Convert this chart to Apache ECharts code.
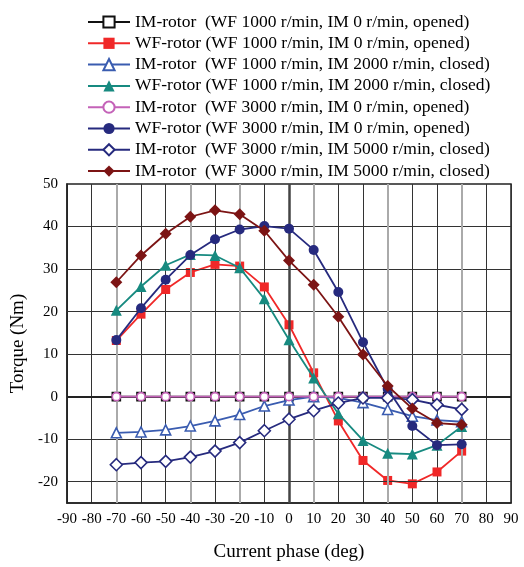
<!DOCTYPE html>
<html>
<head>
<meta charset="utf-8">
<script src="https://cdn.jsdelivr.net/npm/echarts@6/dist/echarts.min.js"></script>
<style>html,body{margin:0;padding:0;background:#fff;}#c{width:524px;height:567px;}</style>
</head>
<body>
<div id="c"></div>
<script>
const phases = [-70,-60,-50,-40,-30,-20,-10,0,10,20,30,40,50,60,70];
const xTicks = [-90,-80,-70,-60,-50,-40,-30,-20,-10,0,10,20,30,40,50,60,70,80,90];
const yTickLabels = [-20,-10,0,10,20,30,40,50];
const yGridLines = [-20,-10,10,20,30,40];
const xGrayLines = [-70,-40,-20,10,40,70];

const imWf1000Im0 = [0,0,0,0,0,0,0,0,0,0,0,0,0,0,0];
const wfWf1000Im0 = [13.2,19.4,25.2,29.2,31.1,30.7,25.8,16.9,5.6,-5.7,-15.0,-19.7,-20.5,-17.7,-12.8];
const imWf1000Im2000 = [-8.5,-8.3,-7.8,-6.9,-5.7,-4.2,-2.2,-0.8,0,-0.3,-1.4,-3.0,-4.6,-5.5,-5.9];
const wfWf1000Im2000 = [20.3,25.9,30.9,33.4,33.2,30.3,23.0,13.4,4.4,-4.0,-10.3,-13.3,-13.5,-11.4,-7.0];
const imWf3000Im0 = [0,0,0,0,0,0,0,0,0,0,0,0,0,0,0];
const wfWf3000Im0 = [13.3,20.8,27.5,33.3,37.0,39.3,40.1,39.5,34.5,24.6,12.8,1.8,-6.9,-11.4,-11.2];
const imWf3000Im5000 = [-16.0,-15.5,-15.2,-14.2,-12.8,-10.8,-8.0,-5.3,-3.3,-1.5,-0.3,-0.3,-0.7,-1.9,-3.0];
const wfWf3000Im5000 = [26.9,33.2,38.3,42.3,43.8,42.9,39.0,32.0,26.3,18.8,9.9,2.5,-2.8,-6.2,-6.6];

const names = [
  'IM-rotor  (WF 1000 r/min, IM 0 r/min, opened)',
  'WF-rotor (WF 1000 r/min, IM 0 r/min, opened)',
  'IM-rotor  (WF 1000 r/min, IM 2000 r/min, closed)',
  'WF-rotor (WF 1000 r/min, IM 2000 r/min, closed)',
  'IM-rotor  (WF 3000 r/min, IM 0 r/min, opened)',
  'WF-rotor (WF 3000 r/min, IM 0 r/min, opened)',
  'IM-rotor  (WF 3000 r/min, IM 5000 r/min, closed)',
  'IM-rotor  (WF 3000 r/min, IM 5000 r/min, closed) '
];
const values = [imWf1000Im0, wfWf1000Im0, imWf1000Im2000, wfWf1000Im2000, imWf3000Im0, wfWf3000Im0, imWf3000Im5000, wfWf3000Im5000];
const styles = [
  {c:'#111111', sym:'rect', open:true, size:8},
  {c:'#f02828', sym:'rect', open:false, size:9},
  {c:'#3a5cb0', sym:'triangle', open:true, size:10},
  {c:'#178a80', sym:'triangle', open:false, size:11},
  {c:'#c462b8', sym:'circle', open:true, size:8},
  {c:'#262a7e', sym:'circle', open:false, size:10},
  {c:'#262a7e', sym:'diamond', open:true, size:12},
  {c:'#7c1414', sym:'diamond', open:false, size:12}
];
const drawOrder = [0,4,1,2,3,6,5,7];

const series = [];
series.push({
  type:'line', name:'_grid', data:[], silent:true, z:1,
  markLine:{
    silent:true, symbol:'none', animation:false, label:{show:false},
    data: [
      ...yGridLines.map(v=>({yAxis:v, lineStyle:{color:'#333', width:1, type:'solid'}})),
      ...xGrayLines.map(v=>({xAxis:v, lineStyle:{color:'#aaaaaa', width:2, type:'solid'}})),
      {xAxis:0, lineStyle:{color:'#444', width:2.5, type:'solid'}},
      {yAxis:0, lineStyle:{color:'#222', width:2, type:'solid'}}
    ]
  }
});
drawOrder.forEach(i=>{
  const s = styles[i];
  series.push({
    type:'line', name:names[i], z:3+i,
    data: phases.map((p,k)=>[p, values[i][k]]),
    symbol:s.sym, symbolSize:s.size, showSymbol:true,
    lineStyle:{color:s.c, width:1.8},
    itemStyle: s.open ? {color:'#ffffff', borderColor:s.c, borderWidth:1.6} : {color:s.c, borderColor:s.c, borderWidth:0},
    emphasis:{disabled:true},
    animation:false
  });
});

const chart = echarts.init(document.getElementById('c'), null, {renderer:'canvas'});
chart.setOption({
  backgroundColor:'#fff',
  animation:false,
  legend:{
    data:names, orient:'vertical', left:82, top:8, padding:5,
    itemWidth:42, itemHeight:14, itemGap:3.3,
    textStyle:{fontFamily:'Liberation Serif', fontSize:17.5, color:'#000'},
    selectedMode:false
  },
  grid:{left:67, right:13, top:184, bottom:55, show:true, borderColor:'#222', borderWidth:1.5, backgroundColor:'transparent'},
  xAxis:{
    type:'value', min:xTicks[0], max:xTicks[xTicks.length-1], interval:10,
    name:'Current phase (deg)', nameLocation:'middle', nameGap:40,
    nameTextStyle:{fontFamily:'Liberation Serif', fontSize:19, color:'#000'},
    axisLine:{show:true, onZero:false, lineStyle:{color:'#222', width:1.5}},
    axisTick:{show:false},
    axisLabel:{fontFamily:'Liberation Serif', fontSize:15, color:'#000', margin:9},
    splitLine:{show:true, lineStyle:{color:'#333', width:1}}
  },
  yAxis:{
    type:'value', min:-25, max:50, interval:5,
    name:'Torque (Nm)', nameLocation:'middle', nameGap:27,
    nameTextStyle:{fontFamily:'Liberation Serif', fontSize:19, color:'#000'},
    axisLine:{show:true, onZero:false, lineStyle:{color:'#222', width:1.5}},
    axisTick:{show:false},
    axisLabel:{fontFamily:'Liberation Serif', fontSize:15, color:'#000', margin:9,
      formatter: v => yTickLabels.indexOf(v) >= 0 ? String(v) : ''},
    splitLine:{show:false}
  },
  series: series
});
</script>
</body>
</html>
